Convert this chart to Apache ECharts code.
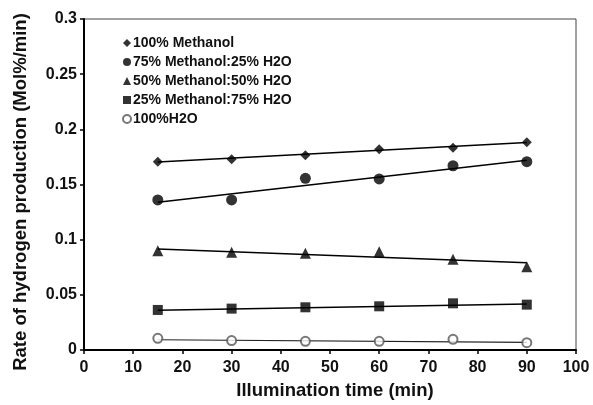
<!DOCTYPE html>
<html><head><meta charset="utf-8">
<script src="https://cdn.jsdelivr.net/npm/echarts@6/dist/echarts.min.js"></script>
<style>html,body{margin:0;padding:0;background:#fff}#c{width:593px;height:405px}</style>
</head><body><div id="c"></div>
<script>
var times = [15, 30, 45, 60, 75, 90];
var names = ['100% Methanol', '75% Methanol:25% H2O', '50% Methanol:50% H2O', '25% Methanol:75% H2O', '100%H2O'];
var symbols = ['diamond', 'circle', 'triangle', 'rect', 'emptyCircle'];
var symbolSizes = [10, 11, 11, 10, 9];
var m100 = [0.1707, 0.1728, 0.1764, 0.182, 0.1834, 0.1883];
var m75 = [0.136, 0.136, 0.1556, 0.155, 0.167, 0.1707];
var m50 = [0.090, 0.0886, 0.0876, 0.0891, 0.0822, 0.0755];
var m25 = [0.0363, 0.0375, 0.0387, 0.0396, 0.0423, 0.0411];
var h100 = [0.0106, 0.0085, 0.0079, 0.0079, 0.0097, 0.0066];
var values = [m100, m75, m50, m25, h100];
// trend line endpoints (at x = 15 and x = 90)
var trendX = [15, 90];
var trend100 = [0.1703, 0.1880];
var trend75 = [0.1340, 0.1720];
var trend50 = [0.0915, 0.0790];
var trend25 = [0.0360, 0.0418];
var trendH = [0.0093, 0.0070];
var trends = [trend100, trend75, trend50, trend25, trendH];
var xTitle = 'Illumination time (min)';
var yTitle = 'Rate of hydrogen production (Mol%/min)';

var series = [];
names.forEach(function (n, i) {
  var hollow = i === 4;
  series.push({
    name: n, type: 'scatter', symbol: symbols[i], symbolSize: symbolSizes[i],
    itemStyle: { color: hollow ? '#555' : '#000', borderColor: hollow ? '#555' : '#000', borderWidth: hollow ? 1 : 0 },
    data: times.map(function (t, k) { return [t, values[i][k]]; }), z: 3
  });
  series.push({
    name: n + ' fit', type: 'line', showSymbol: false, silent: true,
    lineStyle: { color: hollow ? '#222' : '#000', width: hollow ? 1.2 : 1.5 },
    data: trendX.map(function (t, k) { return [t, trends[i][k]]; }), z: 2
  });
});

var font = 'Arial, "Liberation Sans", sans-serif';
var chart = echarts.init(document.getElementById('c'));
chart.setOption({
  animation: false,
  grid: { left: 84, right: 17, top: 19, bottom: 55, show: true, borderColor: '#444', borderWidth: 1 },
  legend: {
    data: names.map(function (n, i) { return { name: n, icon: symbols[i], itemStyle: i === 4 ? { borderWidth: 1 } : undefined }; }),
    orient: 'vertical', left: 117, top: 30, itemWidth: 8, itemHeight: 8, itemGap: 3,
    textStyle: { fontFamily: font, fontWeight: 'bold', fontSize: 14, color: '#111', padding: [0, 0, 0, -3], lineHeight: 16 }
  },
  graphic: [
    { type: 'text', x: 335, y: 391, silent: true,
      style: { text: xTitle, font: 'bold 18.5px ' + font, fill: '#111', textAlign: 'center', textVerticalAlign: 'middle' } },
    { type: 'text', x: 21, y: 192, rotation: Math.PI / 2, silent: true,
      style: { text: yTitle, font: 'bold 18.5px ' + font, fill: '#111', textAlign: 'center', textVerticalAlign: 'middle' } }
  ],
  xAxis: {
    type: 'value', min: 0, max: 100, interval: 10,
    axisLine: { lineStyle: { color: '#000', width: 2 } },
    axisTick: { inside: false, length: 4, lineStyle: { color: '#000', width: 1.5 } },
    axisLabel: { fontFamily: font, fontWeight: 'bold', fontSize: 16, color: '#111', margin: 10 },
    splitLine: { show: false }
  },
  yAxis: {
    type: 'value', min: 0, max: 0.3, interval: 0.05,
    axisLine: { lineStyle: { color: '#000', width: 2 } },
    axisTick: { inside: false, length: 4, lineStyle: { color: '#000', width: 1.5 } },
    axisLabel: { fontFamily: font, fontWeight: 'bold', fontSize: 16, color: '#111', margin: 7 },
    splitLine: { show: false }
  },
  series: series
});
</script></body></html>
